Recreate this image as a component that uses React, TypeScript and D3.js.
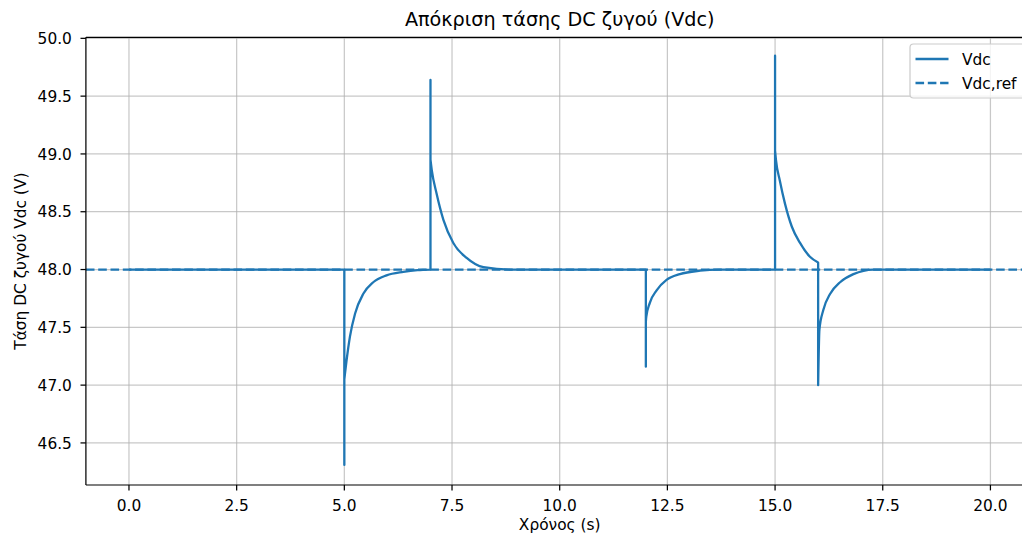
import React from "react";
import * as d3 from "d3";

const timeS = [
  0, 5, 5, 5, 5.015, 5.054, 5.13, 5.25, 5.44, 5.67, 5.98, 6.37, 6.7, 7.0,
  7.0, 7.0, 7.03, 7.14, 7.3, 7.53, 7.84, 8.23, 8.85, 12.0,
  12.0, 12.0, 12.01, 12.09, 12.25, 12.48, 12.79, 13.26, 13.7, 15.0,
  15.0, 15.0, 15.02, 15.11, 15.23, 15.39, 15.58, 15.81, 16.0,
  16.0, 16.0, 16.03, 16.12, 16.28, 16.51, 16.82, 17.28, 17.7, 20.0,
];
const vdcValues = [
  48.0, 48.0, 46.31, 47.05, 47.1, 47.22, 47.42, 47.62, 47.79, 47.89, 47.95, 47.98, 47.995, 48.0,
  49.64, 48.95, 48.86, 48.66, 48.43, 48.23, 48.1, 48.02, 48.0, 48.0,
  47.16, 47.55, 47.59, 47.71, 47.82, 47.91, 47.96, 47.99, 48.0, 48.0,
  49.85, 49.03, 48.95, 48.77, 48.57, 48.37, 48.23, 48.11, 48.06,
  48.06, 47.0, 47.48, 47.65, 47.79, 47.89, 47.96, 48.0, 48.0, 48.0,
];
const vdcRef = 48.0;
const xTicks = [0, 2.5, 5, 7.5, 10, 12.5, 15, 17.5, 20];
const yTicks = [46.5, 47.0, 47.5, 48.0, 48.5, 49.0, 49.5, 50.0];
const legendLabels = ["Vdc", "Vdc,ref"];

const W = 1022;
const H = 538;
const FONT = "DejaVu Sans, sans-serif";
const BLUE = "#1f77b4";
const FS = 15.4;
const LW = 2.3;
const DASH = "8.6,3.7";
const THIN = 1.24;

export default function App() {
  const x = d3.scaleLinear().domain([-1, 21]).range([85.9, 1033.5]);
  const y = d3.scaleLinear().domain([46.136, 50.009]).range([485, 37.3]);
  const left = x(-1);
  const right = x(21);
  const top = y(50.009);
  const bottom = y(46.136);
  const pts: [number, number][] = timeS.map((t, i) => [t, vdcValues[i]]);

  // split into runs with strictly increasing time; vertical jumps joined linearly
  const groups: [number, number][][] = [];
  pts.forEach((p, i) => {
    if (i === 0 || p[0] <= pts[i - 1][0]) groups.push([p]);
    else groups[groups.length - 1].push(p);
  });
  const mono = d3
    .line<[number, number]>()
    .x((d) => x(d[0]))
    .y((d) => y(d[1]))
    .curve(d3.curveMonotoneX);
  const pathD = groups
    .map((g, gi) => {
      const s = g.length > 1 ? mono(g) || "" : `M${x(g[0][0])},${y(g[0][1])}`;
      return gi === 0 ? s : "L" + s.slice(1);
    })
    .join("");

  const cx = (left + right) / 2;
  const cy = (top + bottom) / 2;
  return (
    <svg
      width={W}
      height={H}
      style={{ position: "absolute", left: 0, top: 0, background: "#fff" }}
      fontFamily={FONT}
    >
      <defs>
        <clipPath id="plot">
          <rect x={left} y={top} width={right - left} height={bottom - top} />
        </clipPath>
      </defs>
      <g stroke="#b0b0b0" strokeOpacity={0.7} strokeWidth={THIN}>
        {xTicks.map((t) => (
          <line key={"gx" + t} x1={x(t)} x2={x(t)} y1={top} y2={bottom} />
        ))}
        {yTicks.map((t) => (
          <line key={"gy" + t} x1={left} x2={right} y1={y(t)} y2={y(t)} />
        ))}
      </g>
      <g clipPath="url(#plot)" fill="none" strokeWidth={LW}>
        <path d={pathD} stroke={BLUE} strokeLinejoin="round" />
        <line
          x1={left}
          x2={right}
          y1={y(vdcRef)}
          y2={y(vdcRef)}
          stroke={BLUE}
          strokeDasharray={DASH}
        />
      </g>
      <g stroke="#000" strokeWidth={THIN} fill="none">
        <line x1={left} x2={left} y1={top} y2={bottom} />
        <line x1={left} x2={right} y1={bottom} y2={bottom} />
        <line x1={left} x2={right} y1={top} y2={top} />
        <line x1={right} x2={right} y1={top} y2={bottom} />
      </g>
      <g fontSize={FS} fill="#000">
        {xTicks.map((t) => (
          <g key={"xt" + t}>
            <line x1={x(t)} x2={x(t)} y1={bottom} y2={bottom + 5.4} stroke="#000" strokeWidth={THIN} />
            <text x={x(t)} y={bottom + 25.6} textAnchor="middle">
              {t.toFixed(1)}
            </text>
          </g>
        ))}
        {yTicks.map((t) => (
          <g key={"yt" + t}>
            <line x1={left - 5.4} x2={left} y1={y(t)} y2={y(t)} stroke="#000" strokeWidth={THIN} />
            <text x={left - 14} y={y(t) + 5.6} textAnchor="end">
              {t.toFixed(1)}
            </text>
          </g>
        ))}
      </g>
      <text x={cx} y={530} textAnchor="middle" fontSize={FS}>
        Χρόνος (s)
      </text>
      <text
        transform={`translate(${25.6},${cy}) rotate(-90)`}
        textAnchor="middle"
        fontSize={FS}
      >
        Τάση DC ζυγού Vdc (V)
      </text>
      <text x={cx} y={26} textAnchor="middle" fontSize={19.2}>
        Απόκριση τάσης DC ζυγού (Vdc)
      </text>
      <g>
        <rect
          x={910}
          y={44}
          width={125}
          height={54}
          rx={3.5}
          fill="#fff"
          fillOpacity={0.8}
          stroke="#cccccc"
          strokeWidth={THIN}
        />
        <line x1={915.5} x2={948.5} y1={59} y2={59} stroke={BLUE} strokeWidth={LW} />
        <line x1={915.5} x2={948.5} y1={83} y2={83} stroke={BLUE} strokeWidth={LW} strokeDasharray={DASH} />
        <text x={962} y={64.6} fontSize={FS}>
          {legendLabels[0]}
        </text>
        <text x={962} y={88.6} fontSize={FS}>
          {legendLabels[1]}
        </text>
      </g>
    </svg>
  );
}
